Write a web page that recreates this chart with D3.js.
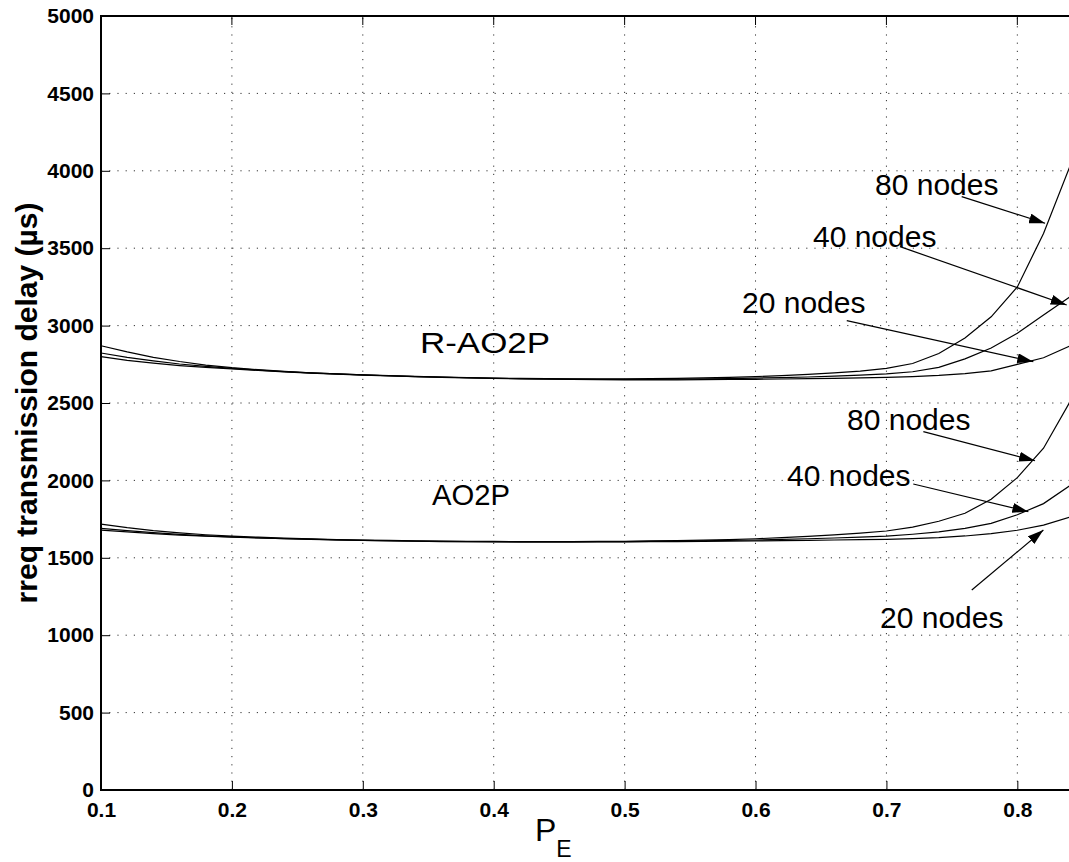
<!DOCTYPE html>
<html><head><meta charset="utf-8">
<script src="https://cdn.jsdelivr.net/npm/d3@7"></script>
<style>
body{margin:0;background:#fff}
svg{display:block}
text{font-family:"Liberation Sans",Arial,Helvetica,sans-serif;fill:#000}
</style>
</head><body>
<svg id="c" width="1069" height="862"></svg>
<script>
// ---- data ----
const pE = [0.10,0.12,0.14,0.16,0.18,0.20,0.22,0.24,0.26,0.28,0.30,0.32,0.34,0.36,0.38,0.40,0.42,0.44,0.46,0.48,0.50,0.52,0.54,0.56,0.58,0.60,0.62,0.64,0.66,0.68,0.70,0.72,0.74,0.76,0.78,0.80,0.82,0.84];

const rao2p80 = [2870,2830,2795,2768,2745,2728,2715,2704,2695,2688,2682,2677,2672,2668,2664,2661,2659,2657,2656,2656,2656,2657,2659,2662,2666,2671,2677,2685,2694,2706,2724,2755,2820,2920,3057,3250,3595,4025];
const rao2p40 = [2823,2795,2772,2752,2737,2724,2713,2703,2695,2688,2682,2676,2671,2667,2663,2660,2657,2655,2654,2653,2653,2653,2654,2656,2658,2661,2664,2668,2673,2680,2688,2702,2730,2785,2855,2950,3068,3185];
const rao2p20 = [2799,2775,2757,2742,2730,2720,2710,2701,2693,2686,2680,2675,2670,2666,2662,2659,2656,2654,2652,2651,2650,2650,2650,2651,2652,2653,2655,2657,2659,2662,2666,2671,2678,2690,2708,2750,2792,2868];

const ao2p80 = [1718,1695,1676,1661,1649,1640,1633,1627,1622,1618,1615,1612,1610,1608,1607,1606,1605,1605,1605,1606,1607,1609,1611,1614,1618,1623,1630,1638,1648,1660,1673,1698,1736,1788,1878,2018,2208,2505];
const ao2p40 = [1690,1675,1662,1651,1642,1635,1629,1624,1620,1616,1613,1610,1608,1606,1605,1604,1603,1603,1603,1604,1605,1606,1608,1610,1612,1615,1619,1623,1628,1634,1640,1652,1667,1690,1722,1778,1850,1965];
const ao2p20 = [1679,1667,1656,1647,1640,1634,1628,1623,1619,1615,1612,1609,1607,1605,1604,1603,1602,1602,1602,1602,1603,1604,1605,1606,1607,1609,1611,1613,1615,1617,1619,1624,1630,1641,1656,1678,1711,1762];

const xTicks = [0.1,0.2,0.3,0.4,0.5,0.6,0.7,0.8];
const yTicks = [0,500,1000,1500,2000,2500,3000,3500,4000,4500,5000];
const yLabel = "rreq transmission delay (\u00b5s)";

// group labels: [text, p, value, width]
const groupLabels = [["R-AO2P",0.3437,2823,130],["AO2P",0.3529,1841,78]];
// node labels with arrows: [text, labelP, labelV, fromP, fromV, toP, toV]
const nodeNotes = [
  ["80 nodes",0.6913,3844, 0.7575,3833, 0.8212,3661],
  ["40 nodes",0.6439,3510, 0.7104,3510, 0.8377,3133],
  ["20 nodes",0.5897,3081, 0.6697,3032, 0.8122,2767],
  ["80 nodes",0.6699,2326, 0.7282,2315, 0.8135,2127],
  ["40 nodes",0.6241,1964, 0.7205,1977, 0.8084,1798],
  ["20 nodes",0.6951,1047, 0.7652,1292, 0.8199,1680]
];

// ---- chart ----
const svg = d3.select("#c");
const L = 101, R = 1069.7, T = 16, B = 790;
const x = d3.scaleLinear().domain([0.1,0.84]).range([L,R]);
const y = d3.scaleLinear().domain([0,5000]).range([B,T]);

// grid
const grid = svg.append("g").attr("stroke","#333").attr("stroke-width",1).attr("stroke-dasharray","1.2,7");
grid.selectAll("line.gx").data(xTicks.filter(d=>d>0.1)).join("line")
  .attr("x1",d=>x(d)).attr("x2",d=>x(d)).attr("y1",B).attr("y2",T);
grid.selectAll("line.gy").data(yTicks.filter(d=>d>0&&d<5000)).join("line")
  .attr("y1",d=>y(d)).attr("y2",d=>y(d)).attr("x1",L).attr("x2",R);

// axes
const xAxis = d3.axisBottom(x).tickValues(xTicks).tickFormat(d3.format(".1f")).tickSizeInner(-9).tickSizeOuter(0).tickPadding(12);
const yAxis = d3.axisLeft(y).tickValues(yTicks).tickFormat(d3.format("d")).tickSizeInner(-9).tickSizeOuter(0).tickPadding(7);
const gx = svg.append("g").attr("transform",`translate(0,${B})`).call(xAxis);
const gy = svg.append("g").attr("transform",`translate(${L},0)`).call(yAxis);
[gx,gy].forEach(g=>{
  g.select(".domain").remove();
  g.selectAll(".tick line").attr("stroke","#000").attr("stroke-width",1);
  g.selectAll(".tick text").attr("font-size",21).attr("font-weight","bold").attr("font-family",'"Liberation Sans",Arial,sans-serif');
});
// top ticks
svg.append("g").selectAll("line").data(xTicks).join("line")
  .attr("x1",d=>x(d)).attr("x2",d=>x(d)).attr("y1",T).attr("y2",T+9).attr("stroke","#000");

// box
svg.append("path").attr("d",`M${R},${T}H${L}V${B}H${R}`).attr("fill","none").attr("stroke","#000").attr("stroke-width",2);

// curves
const line = d3.line().x((d,i)=>x(pE[i])).y(d=>y(d));
const series = [rao2p80,rao2p40,rao2p20,ao2p80,ao2p40,ao2p20];
svg.append("g").selectAll("path").data(series).join("path")
  .attr("d",line).attr("fill","none").attr("stroke","#000").attr("stroke-width",1.2);

// arrow marker
svg.append("defs").append("marker").attr("id","ah").attr("markerUnits","userSpaceOnUse")
  .attr("markerWidth",16).attr("markerHeight",10).attr("refX",16).attr("refY",5).attr("orient","auto")
  .append("path").attr("d","M0,0L16,5L0,10z").attr("fill","#000");

// annotations
svg.append("g").selectAll("text").data(groupLabels).join("text")
  .attr("x",d=>x(d[1])).attr("y",d=>y(d[2])).attr("font-size",30)
  .attr("textLength",d=>d[3]).attr("lengthAdjust","spacingAndGlyphs").text(d=>d[0]);

const notes = svg.append("g");
notes.selectAll("line").data(nodeNotes).join("line")
  .attr("x1",d=>x(d[3])).attr("y1",d=>y(d[4])).attr("x2",d=>x(d[5])).attr("y2",d=>y(d[6]))
  .attr("stroke","#000").attr("stroke-width",1.2).attr("marker-end","url(#ah)");
notes.selectAll("text").data(nodeNotes).join("text")
  .attr("x",d=>x(d[1])).attr("y",d=>y(d[2])).attr("font-size",30).text(d=>d[0]);

// axis labels
svg.append("text").attr("transform",`translate(37,${(T+B)/2}) rotate(-90)`).attr("text-anchor","middle")
  .attr("font-size",30).attr("font-weight","bold").text(yLabel);
const xl = svg.append("text").attr("x",535).attr("y",841).attr("font-size",32);
xl.append("tspan").text("P");
xl.append("tspan").attr("font-size",23).attr("dy",16).text("E");
</script>
</body></html>
